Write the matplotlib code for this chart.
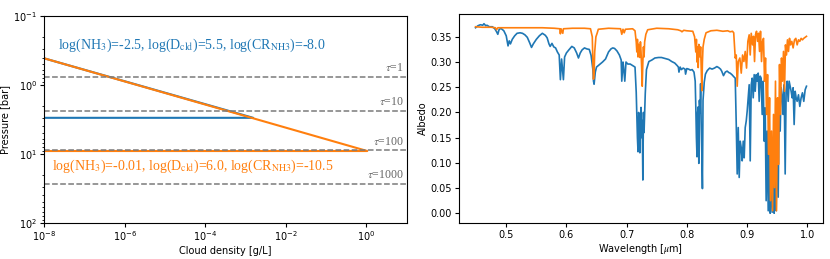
import numpy as np
import matplotlib
matplotlib.use("Agg")
import matplotlib.pyplot as plt

plt.rcParams['mathtext.fontset'] = 'stix'

# ---------------- Left panel data ----------------
blue_density = [1e-8, 1.55e-3, 1e-8]
blue_pressure = [0.41, 3.0, 3.0]
orange_density = [1e-8, 1.05, 1e-8]
orange_pressure = [0.41, 9.1, 9.1]
tau_pressure = [0.755, 2.36, 8.7, 27.0]
tau_labels = [r'$\tau$=1', r'$\tau$=10', r'$\tau$=100', r'$\tau$=1000']
blue_label = r'log(NH$_3$)=-2.5, log(D$_{\rm cld}$)=5.5, log(CR$_{\rm NH3}$)=-8.0'
orange_label = r'log(NH$_3$)=-0.01, log(D$_{\rm cld}$)=6.0, log(CR$_{\rm NH3}$)=-10.5'

# ---------------- Right panel data ----------------
wl_blue = [
    0.449, 0.453, 0.457, 0.461, 0.463, 0.466, 0.468, 0.472, 0.477, 0.481,
    0.484, 0.486, 0.488, 0.491, 0.496, 0.500, 0.503, 0.505, 0.507, 0.510,
    0.514, 0.518, 0.523, 0.527, 0.531, 0.535, 0.539, 0.542, 0.545, 0.550,
    0.555, 0.560, 0.565, 0.568, 0.571, 0.573, 0.576, 0.579, 0.582, 0.585,
    0.588, 0.590, 0.592, 0.595, 0.597, 0.600, 0.604, 0.609, 0.613, 0.617,
    0.620, 0.623, 0.626, 0.630, 0.634, 0.638, 0.641, 0.644, 0.645, 0.646,
    0.648, 0.650, 0.655, 0.660, 0.665, 0.670, 0.674, 0.677, 0.680, 0.684,
    0.688, 0.691, 0.692, 0.694, 0.695, 0.697, 0.699, 0.702, 0.706, 0.710,
    0.714, 0.716, 0.718, 0.719, 0.720, 0.721, 0.722, 0.723, 0.724, 0.725,
    0.726, 0.727, 0.728, 0.729, 0.731, 0.733, 0.737, 0.742, 0.747, 0.753,
    0.758, 0.764, 0.770, 0.775, 0.780, 0.784, 0.786, 0.787, 0.789, 0.791,
    0.794, 0.797, 0.798, 0.800, 0.803, 0.806, 0.809, 0.812, 0.814, 0.815,
    0.816, 0.817, 0.818, 0.819, 0.820, 0.821, 0.822, 0.823, 0.824, 0.825,
    0.826, 0.827, 0.829, 0.831, 0.834, 0.838, 0.842, 0.846, 0.850, 0.853,
    0.856, 0.858, 0.861, 0.864, 0.867, 0.870, 0.872, 0.875, 0.878,
    0.8805, 0.8822, 0.8838, 0.8855, 0.8871, 0.8888, 0.8905, 0.8921, 0.8938, 0.8954,
    0.8971, 0.8988, 0.9004, 0.9021, 0.9037, 0.9054, 0.9071, 0.9087, 0.9104, 0.9120,
    0.9137, 0.9154, 0.9170, 0.9187, 0.9203, 0.9220, 0.9236, 0.9253, 0.9270, 0.9286,
    0.9303, 0.9319, 0.9336, 0.9353, 0.9369, 0.9386, 0.9402, 0.9419, 0.9436, 0.9452,
    0.9469, 0.9485, 0.9502, 0.9519, 0.9535, 0.9552, 0.9568, 0.9585, 0.9602, 0.9618,
    0.9635, 0.9651, 0.9668, 0.9685, 0.9701, 0.9718, 0.9734, 0.9751, 0.9767, 0.9784,
    0.9801, 0.9817, 0.9834, 0.9856, 0.9878, 0.9900, 0.9922, 0.9944, 0.9967, 0.9989]
alb_blue = [
    0.368, 0.372, 0.374, 0.373, 0.376, 0.372, 0.373, 0.370, 0.370, 0.366,
    0.360, 0.355, 0.364, 0.367, 0.362, 0.352, 0.332, 0.342, 0.336, 0.345,
    0.352, 0.357, 0.358, 0.357, 0.354, 0.349, 0.338, 0.329, 0.336, 0.345,
    0.352, 0.357, 0.353, 0.348, 0.336, 0.331, 0.337, 0.330, 0.328, 0.320,
    0.314, 0.265, 0.306, 0.265, 0.310, 0.318, 0.324, 0.331, 0.328, 0.318,
    0.308, 0.318, 0.324, 0.328, 0.326, 0.325, 0.313, 0.285, 0.262, 0.256,
    0.280, 0.290, 0.295, 0.300, 0.306, 0.320, 0.326, 0.328, 0.327, 0.322,
    0.314, 0.304, 0.262, 0.300, 0.290, 0.262, 0.300, 0.296, 0.296, 0.293,
    0.290, 0.240, 0.150, 0.122, 0.200, 0.190, 0.120, 0.175, 0.210, 0.150,
    0.184, 0.066, 0.200, 0.160, 0.237, 0.285, 0.301, 0.304, 0.308, 0.309,
    0.309, 0.307, 0.305, 0.301, 0.298, 0.293, 0.290, 0.280, 0.290, 0.285,
    0.288, 0.286, 0.276, 0.287, 0.286, 0.284, 0.285, 0.280, 0.262, 0.211,
    0.150, 0.112, 0.200, 0.211, 0.099, 0.224, 0.200, 0.257, 0.171, 0.120,
    0.049, 0.224, 0.260, 0.276, 0.283, 0.288, 0.286, 0.288, 0.291, 0.289,
    0.286, 0.282, 0.273, 0.280, 0.282, 0.279, 0.278, 0.275, 0.271,
    0.268, 0.176, 0.078, 0.170, 0.071, 0.143, 0.130, 0.104, 0.143, 0.110,
    0.170, 0.183, 0.203, 0.229, 0.255, 0.104, 0.255, 0.268, 0.229, 0.275,
    0.242, 0.275, 0.262, 0.278, 0.222, 0.272, 0.268, 0.196, 0.262, 0.143,
    0.209, 0.025, 0.163, 0.005, 0.117, 0.000, 0.078, 0.002, 0.117, 0.000,
    0.064, 0.005, 0.176, 0.032, 0.222, 0.163, 0.249, 0.235, 0.196, 0.255,
    0.078, 0.242, 0.262, 0.222, 0.262, 0.252, 0.242, 0.229, 0.249, 0.176,
    0.242, 0.229, 0.222, 0.235, 0.212, 0.229, 0.239, 0.222, 0.245, 0.252]

wl_orange = [
    0.449, 0.460, 0.475, 0.482, 0.484, 0.486, 0.500, 0.520, 0.540, 0.560,
    0.580, 0.589, 0.590, 0.591, 0.594, 0.595, 0.610, 0.630, 0.640, 0.643,
    0.644, 0.645, 0.646, 0.647, 0.649, 0.651, 0.653, 0.670, 0.690, 0.692,
    0.694, 0.696, 0.698, 0.710, 0.714, 0.716, 0.717, 0.718, 0.719, 0.720,
    0.721, 0.722, 0.723, 0.724, 0.725, 0.726, 0.727, 0.728, 0.729, 0.730,
    0.732, 0.735, 0.750, 0.770, 0.785, 0.790, 0.792, 0.795, 0.800, 0.810,
    0.813, 0.815, 0.816, 0.817, 0.818, 0.819, 0.820, 0.822, 0.823, 0.824,
    0.825, 0.826, 0.827, 0.829, 0.832, 0.840, 0.850, 0.860, 0.868, 0.872,
    0.876, 0.878,
    0.8805, 0.8822, 0.8838, 0.8855, 0.8882, 0.8905, 0.8927, 0.8949, 0.8971, 0.8993,
    0.9015, 0.9037, 0.9054, 0.9071, 0.9093, 0.9109, 0.9126, 0.9142, 0.9159, 0.9176,
    0.9192, 0.9209, 0.9225, 0.9242, 0.9259, 0.9275, 0.9292, 0.9308, 0.9325, 0.9342,
    0.9358, 0.9375, 0.9391, 0.9408, 0.9425, 0.9441, 0.9458, 0.9474, 0.9491, 0.9508,
    0.9524, 0.9541, 0.9557, 0.9574, 0.9590, 0.9607, 0.9624, 0.9640, 0.9657, 0.9673,
    0.9690, 0.9707, 0.9723, 0.9745, 0.9767, 0.9790, 0.9812, 0.9834, 0.9856, 0.9878,
    0.9900, 0.9922, 0.9944, 0.9967, 0.9989]
alb_orange = [
    0.370, 0.369, 0.369, 0.368, 0.364, 0.368, 0.368, 0.368, 0.368, 0.368,
    0.367, 0.366, 0.356, 0.366, 0.357, 0.366, 0.367, 0.367, 0.366, 0.350,
    0.300, 0.266, 0.280, 0.320, 0.350, 0.357, 0.365, 0.367, 0.366, 0.355,
    0.365, 0.358, 0.365, 0.366, 0.362, 0.340, 0.320, 0.345, 0.310, 0.335,
    0.330, 0.309, 0.340, 0.320, 0.290, 0.252, 0.300, 0.330, 0.310, 0.340,
    0.355, 0.364, 0.367, 0.366, 0.364, 0.362, 0.360, 0.363, 0.362, 0.361,
    0.350, 0.320, 0.345, 0.300, 0.330, 0.289, 0.335, 0.310, 0.330, 0.290,
    0.243, 0.300, 0.330, 0.345, 0.358, 0.362, 0.363, 0.361, 0.362, 0.360,
    0.361, 0.358,
    0.308, 0.314, 0.252, 0.301, 0.308, 0.278, 0.314, 0.301, 0.321, 0.288,
    0.341, 0.354, 0.314, 0.357, 0.334, 0.351, 0.301, 0.354, 0.361, 0.341,
    0.357, 0.321, 0.361, 0.301, 0.341, 0.347, 0.262, 0.308, 0.196, 0.275,
    0.117, 0.229, 0.025, 0.163, 0.005, 0.196, 0.051, 0.262, 0.005, 0.229,
    0.097, 0.295, 0.196, 0.308, 0.262, 0.321, 0.242, 0.334, 0.314, 0.344,
    0.321, 0.347, 0.334, 0.341, 0.328, 0.344, 0.347, 0.334, 0.344, 0.341,
    0.347, 0.344, 0.347, 0.349, 0.351]

C0 = '#1f77b4'
C1 = '#ff7f0e'
fs = 7

fig = plt.figure(figsize=(8.3, 2.59), dpi=100)
ax1 = fig.add_axes([0.053, 0.140, 0.437, 0.798])
ax2 = fig.add_axes([0.553, 0.140, 0.4386, 0.805])

# Left panel
ax1.plot(blue_density, blue_pressure, color=C0, lw=1.5)
ax1.plot(orange_density, orange_pressure, color=C1, lw=1.5)
for p, lab in zip(tau_pressure, tau_labels):
    ax1.axhline(p, color='#7a7a7a', ls='--', lw=1.1)
    ax1.text(0.992, p * 0.93, lab, transform=ax1.get_yaxis_transform(),
             ha='right', va='bottom', fontsize=8.5, color='#666666',
             family='Liberation Serif')
ax1.set_xscale('log')
ax1.set_yscale('log')
ax1.set_xlim(1e-8, 1e1)
ax1.set_ylim(100, 0.1)
ax1.set_xticks([1e-8, 1e-6, 1e-4, 1e-2, 1e0])
ax1.text(0.038, 0.86, blue_label, transform=ax1.transAxes, color=C0,
         fontsize=10, family='Liberation Serif', va='center', ha='left')
ax1.text(0.022, 0.274, orange_label, transform=ax1.transAxes, color=C1,
         fontsize=10, family='Liberation Serif', va='center', ha='left')
ax1.set_xlabel('Cloud density [g/L]', fontsize=fs, labelpad=2)
ax1.set_ylabel('Pressure [bar]', fontsize=fs, labelpad=2)
ax1.tick_params(labelsize=fs, length=3, pad=2)
ax1.tick_params(which='minor', length=1.5)

# Right panel
ax2.plot(wl_blue, alb_blue, color=C0, lw=1.2)
ax2.plot(wl_orange, alb_orange, color=C1, lw=1.2)
ax2.set_xlabel(r'Wavelength [$\mu$m]', fontsize=fs, labelpad=2)
ax2.set_ylabel('Albedo', fontsize=fs, labelpad=2)
ax2.set_yticks(np.arange(0, 0.351, 0.05))
ax2.tick_params(labelsize=fs, length=3, pad=2)

fig.savefig('out.png', dpi=100)
